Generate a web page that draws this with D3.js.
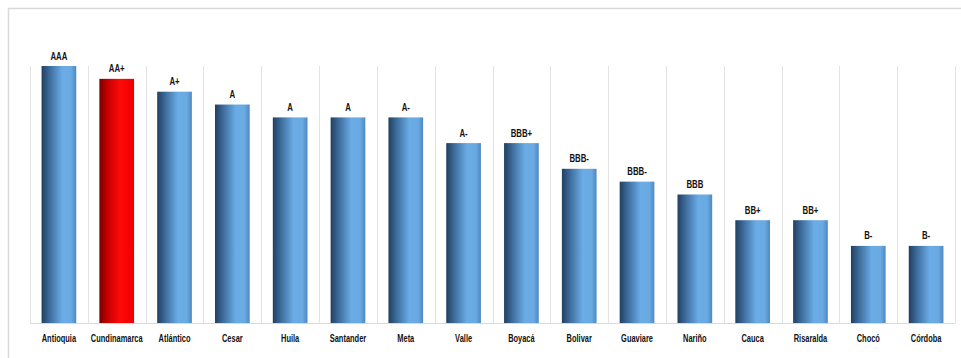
<!DOCTYPE html>
<html><head><meta charset="utf-8">
<script src="https://cdn.jsdelivr.net/npm/d3@7"></script>
<style>
html,body{margin:0;padding:0;background:#fff;}
svg{display:block;}
text{font-family:"Liberation Sans",Arial,sans-serif;font-weight:bold;fill:#111;}
</style></head>
<body>
<svg id="chart" width="961" height="358"></svg>
<script>
const categories = ["Antioquia","Cundinamarca","Atlántico","Cesar","Huila","Santander","Meta","Valle","Boyacá","Bolivar","Guaviare","Nariño","Cauca","Risaralda","Chocó","Córdoba"];
const values = [20,19,18,17,16,16,16,14,14,12,11,10,8,8,6,6];
const ratings = ["AAA","AA+","A+","A","A","A","A-","A-","BBB+","BBB-","BBB-","BBB","BB+","BB+","B-","B-"];
const highlight = ["Cundinamarca"];

const svg = d3.select("#chart");
const W = 961, H = 358;
const m = {left:30, right:6, top:66, bottom:35};
const SX = 0.71; // horizontal condense factor
const x = d3.scaleBand().domain(categories).range([m.left, W - m.right]).paddingInner(0.4).paddingOuter(0.2);
const y = d3.scaleLinear().domain([0, 20]).range([H - m.bottom, m.top]);

const defs = svg.append("defs");
function grad(id, stops){
  const g = defs.append("linearGradient").attr("id", id).attr("x1","0%").attr("x2","100%").attr("y1","0%").attr("y2","0%");
  stops.forEach(s => g.append("stop").attr("offset", s[0]).attr("stop-color", s[1]));
}
grad("gBlue", [["0%","#213f60"],["25%","#3f6f9f"],["60%","#6aace6"],["85%","#6aaae3"],["100%","#4f88c0"]]);
grad("gRed", [["0%","#7a0000"],["25%","#c80000"],["60%","#ff0a0a"],["100%","#ee0000"]]);

// outer frame
svg.append("line").attr("x1",8).attr("x2",W).attr("y1",8.5).attr("y2",8.5).attr("stroke","#d9d9d9").attr("stroke-width",1.5);
svg.append("line").attr("x1",8.5).attr("x2",8.5).attr("y1",8).attr("y2",H).attr("stroke","#d9d9d9").attr("stroke-width",1.5);

// vertical category separators
const sepX = d3.range(categories.length + 1).map(i => m.left + i*(W - m.right - m.left)/categories.length);
svg.append("g").selectAll("line").data(sepX).join("line")
  .attr("x1", d => Math.round(d)+0.5).attr("x2", d => Math.round(d)+0.5)
  .attr("y1", m.top).attr("y2", y(0))
  .attr("stroke","#e3e3e3").attr("stroke-width",1);

// baseline
svg.append("line").attr("x1", m.left).attr("x2", W - m.right).attr("y1", y(0)+0.5).attr("y2", y(0)+0.5).attr("stroke","#d9d9d9");

// bars
svg.append("g").selectAll("rect").data(categories).join("rect")
  .attr("x", d => x(d)).attr("width", x.bandwidth())
  .attr("y", (d,i) => y(values[i])).attr("height", (d,i) => y(0) - y(values[i]))
  .attr("fill", d => highlight.includes(d) ? "url(#gRed)" : "url(#gBlue)");

// rating labels
svg.append("g").selectAll("g").data(categories).join("g")
  .attr("transform", (d,i) => `translate(${x(d) + x.bandwidth()/2},${y(values[i]) - 6.5})`)
  .append("text")
  .attr("transform", `scale(${SX},1)`)
  .attr("text-anchor","middle").attr("font-size", 11)
  .text((d,i) => ratings[i]);

// category axis labels
const xAxis = d3.axisBottom(x).tickSize(0).tickPadding(12);
const ax = svg.append("g").attr("transform", `translate(0,${y(0)})`).call(xAxis);
ax.select(".domain").remove();
ax.attr("font-family", null).attr("font-size", null);
ax.selectAll("text").attr("font-size", 10.5).attr("transform", `scale(${SX},1)`);
</script>
</body></html>
